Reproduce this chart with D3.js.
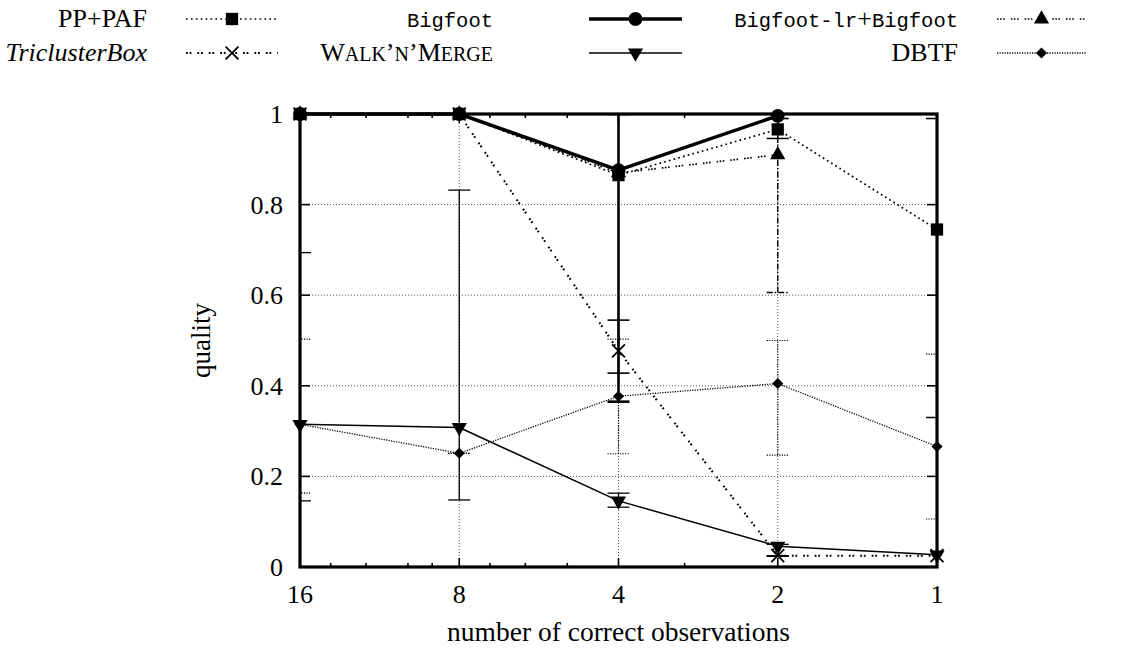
<!DOCTYPE html>
<html><head><meta charset="utf-8">
<script src="https://cdn.jsdelivr.net/npm/d3@7"></script>
<style>html,body{margin:0;padding:0;background:#fff}</style>
</head><body>
<svg id="c" width="1142" height="650"></svg>
<script>
// ---------- data ----------
const xs = [16, 8, 4, 2, 1];
const xTickLabels = ["16", "8", "4", "2", "1"];
const xMinorTicks = [14, 12, 10, 9, 7, 6, 5, 3];
const yTicks = [0, 0.2, 0.4, 0.6, 0.8, 1];
const yTickLabels = ["0", "0.2", "0.4", "0.6", "0.8", "1"];
const xGrid = [8, 4, 2];
const yGrid = [0.2, 0.4, 0.6, 0.8];

const ppPaf   = [1, 1, 0.865, 0.966, 0.745];
const ppPafLo = [null, null, null, 0.946, 0.33];
const ppPafHi = [null, null, null, 0.99, 0.99];

const bigfoot   = [1, 1, 0.876, 0.996, null];
const bigfootLo = [null, null, 0.365, null, null];
const bigfootHi = [null, null, 1.0, null, null];

const bflr   = [1, 1, 0.87, 0.91, null];
const bflrLo = [null, null, null, 0.606, null];
const bflrHi = [null, null, null, 0.99, null];

const tricluster   = [1, 1, 0.477, 0.025, 0.025];
const triclusterLo = [null, null, 0.428, 0.024, null];
const triclusterHi = [null, null, 0.545, 0.024, null];

const walkMerge   = [0.315, 0.308, 0.146, 0.046, 0.027];
const walkMergeLo = [0.146, 0.148, 0.132, 0.024, null];
const walkMergeHi = [0.694, 0.832, 0.163, 0.05, null];

const dbtf   = [0.315, 0.251, 0.377, 0.405, 0.266];
const dbtfLo = [0.163, 0.251, 0.25, 0.247, 0.106];
const dbtfHi = [0.503, 0.251, 0.503, 0.5, 0.47];

const seriesNames = ["PP+PAF", "Bigfoot", "Bigfoot-lr+Bigfoot", "TriclusterBox", "Walk'n'Merge", "DBTF"];
const xLabel = "number of correct observations";
const yLabel = "quality";

// ---------- setup ----------
const svg = d3.select("#c");
const L = 300, R = 937, T = 114, B = 567;
const x = d3.scaleLog().base(2).domain([16, 1]).range([L, R]);
const y = d3.scaleLinear().domain([0, 1]).range([B, T]);
const serif = "'Liberation Serif','Times New Roman',serif";
const mono = "'Liberation Mono','DejaVu Sans Mono',monospace";

const series = [
  {name: seriesNames[0], v: ppPaf, lo: ppPafLo, hi: ppPafHi, w: 1.7, dash: "1.7,3.2", ew: 1.5, edash: null, marker: "square"},
  {name: seriesNames[1], v: bigfoot, lo: bigfootLo, hi: bigfootHi, w: 3.5, dash: null, ew: 2.6, edash: null, marker: "circle"},
  {name: seriesNames[2], v: bflr, lo: bflrLo, hi: bflrHi, w: 1.7, dash: "1.6,1.5,1.6,1.5,1.6,6", ew: 1.4, edash: "6,2,1.5,2", marker: "triUp"},
  {name: seriesNames[3], v: tricluster, lo: triclusterLo, hi: triclusterHi, w: 2, dash: "1.8,1.8,1.8,6", ew: 1.6, edash: null, marker: "cross"},
  {name: seriesNames[4], v: walkMerge, lo: walkMergeLo, hi: walkMergeHi, w: 1.5, dash: null, ew: 1.3, edash: null, marker: "triDown"},
  {name: seriesNames[5], v: dbtf, lo: dbtfLo, hi: dbtfHi, w: 1.3, dash: "1.2,1.3", ew: 1.2, edash: "1.2,1.3", marker: "diamond"}
];

function drawMarker(g, type, cx, cy) {
  if (type === "square") {
    g.append("path").attr("d", d3.symbol(d3.symbolSquare, 150)()).attr("transform", `translate(${cx},${cy})`).attr("fill", "#000");
  } else if (type === "circle") {
    g.append("path").attr("d", d3.symbol(d3.symbolCircle, 150)()).attr("transform", `translate(${cx},${cy})`).attr("fill", "#000");
  } else if (type === "triUp") {
    g.append("path").attr("d", d3.symbol(d3.symbolTriangle, 100)()).attr("transform", `translate(${cx},${cy})`).attr("fill", "#000");
  } else if (type === "triDown") {
    g.append("path").attr("d", d3.symbol(d3.symbolTriangle, 100)()).attr("transform", `translate(${cx},${cy}) rotate(180)`).attr("fill", "#000");
  } else if (type === "diamond") {
    g.append("path").attr("d", d3.symbol(d3.symbolSquare, 62)()).attr("transform", `translate(${cx},${cy}) rotate(45)`).attr("fill", "#000");
  } else if (type === "cross") {
    g.append("path").attr("d", d3.symbol(d3.symbolX, 110)()).attr("transform", `translate(${cx},${cy})`)
      .attr("fill", "none").attr("stroke", "#000").attr("stroke-width", 1.8);
  }
}

// clip
svg.append("defs").append("clipPath").attr("id", "plotclip")
  .append("rect").attr("x", L).attr("y", T).attr("width", R - L).attr("height", B - T);

// grid
const grid = svg.append("g").attr("stroke", "#555").attr("stroke-width", 1).attr("stroke-dasharray", "1,2");
yGrid.forEach(v => grid.append("line").attr("x1", L).attr("x2", R).attr("y1", y(v)).attr("y2", y(v)));
xGrid.forEach(v => grid.append("line").attr("x1", x(v)).attr("x2", x(v)).attr("y1", T).attr("y2", B));

// ticks
const tk = svg.append("g").attr("stroke", "#000").attr("stroke-width", 1.6);
yTicks.forEach(v => {
  tk.append("line").attr("x1", L).attr("x2", L + 10).attr("y1", y(v)).attr("y2", y(v));
  tk.append("line").attr("x1", R - 10).attr("x2", R).attr("y1", y(v)).attr("y2", y(v));
});
xs.forEach(v => {
  tk.append("line").attr("x1", x(v)).attr("x2", x(v)).attr("y1", B).attr("y2", B - 9);
  tk.append("line").attr("x1", x(v)).attr("x2", x(v)).attr("y1", T).attr("y2", T + 9);
});
xMinorTicks.forEach(v => {
  tk.append("line").attr("x1", x(v)).attr("x2", x(v)).attr("y1", B).attr("y2", B - 4);
  tk.append("line").attr("x1", x(v)).attr("x2", x(v)).attr("y1", T).attr("y2", T + 4);
});

// error bars
const eb = svg.append("g").attr("clip-path", "url(#plotclip)");
series.forEach(s => {
  xs.forEach((xv, i) => {
    if (s.lo[i] == null || s.hi[i] == null) return;
    const g = eb.append("g").attr("stroke", "#000").attr("stroke-width", s.ew)
      .attr("stroke-dasharray", s.edash);
    const cx = x(xv);
    g.append("line").attr("x1", cx).attr("x2", cx).attr("y1", y(s.lo[i])).attr("y2", y(s.hi[i]));
    [s.lo[i], s.hi[i]].forEach(v => g.append("line").attr("x1", cx - 11).attr("x2", cx + 11).attr("y1", y(v)).attr("y2", y(v)));
  });
});

// lines
const line = d3.line().defined(d => d[1] != null).x(d => x(d[0])).y(d => y(d[1]));
const lines = svg.append("g");
series.slice().reverse().forEach(s => {
  lines.append("path").attr("d", line(xs.map((xv, i) => [xv, s.v[i]])))
    .attr("fill", "none").attr("stroke", "#000").attr("stroke-width", s.w)
    .attr("stroke-dasharray", s.dash).attr("stroke-linejoin", "round");
});

// frame
svg.append("rect").attr("x", L).attr("y", T).attr("width", R - L).attr("height", B - T)
  .attr("fill", "none").attr("stroke", "#000").attr("stroke-width", 3.2);

// markers
const mk = svg.append("g");
series.slice().reverse().forEach(s => {
  xs.forEach((xv, i) => { if (s.v[i] != null) drawMarker(mk, s.marker, x(xv), y(s.v[i])); });
});

// tick labels
const tl = svg.append("g").attr("font-family", serif).attr("font-size", 26).attr("fill", "#000");
yTicks.forEach((v, i) => tl.append("text").attr("x", L - 17).attr("y", y(v) + 9).attr("text-anchor", "end").text(yTickLabels[i]));
xs.forEach((v, i) => tl.append("text").attr("x", x(v)).attr("y", B + 36).attr("text-anchor", "middle").text(xTickLabels[i]));

// axis labels
svg.append("text").attr("x", (L + R) / 2).attr("y", 641).attr("text-anchor", "middle")
  .attr("font-family", serif).attr("font-size", 27.5).text(xLabel);
svg.append("text").attr("transform", `translate(210,${(T + B) / 2}) rotate(-90)`).attr("text-anchor", "middle")
  .attr("font-family", serif).attr("font-size", 27).text(yLabel);

// legend
const lg = svg.append("g");
const cols = [{tx: 147, s1: 186, s2: 278}, {tx: 493, s1: 589, s2: 682}, {tx: 958, s1: 997, s2: 1086}];
const rows = [27, 61];
series.forEach((s, k) => {
  const c = cols[k % 3], ry = rows[Math.floor(k / 3)];
  const t = lg.append("text").attr("x", c.tx).attr("y", ry).attr("text-anchor", "end").attr("fill", "#000");
  if (k === 0 || k === 5) {
    t.attr("font-family", serif).attr("font-size", 26).text(s.name);
  } else if (k === 1) {
    t.attr("font-family", mono).attr("font-size", 20.5).text(s.name);
  } else if (k === 2) {
    const parts = s.name.split("+");
    t.attr("font-family", mono).attr("font-size", 20.5);
    t.append("tspan").text(parts[0]);
    t.append("tspan").attr("font-family", serif).attr("font-size", 26).text("+");
    t.append("tspan").text(parts[1]);
  } else if (k === 3) {
    t.attr("font-family", serif).attr("font-size", 26).attr("font-style", "italic").text(s.name);
  } else if (k === 4) {
    t.attr("font-family", serif).attr("font-size", 26);
    const sc = [["W", 26], ["ALK", 20], ["\u2019", 26], ["N", 20], ["\u2019", 26], ["M", 26], ["ERGE", 20]];
    sc.forEach(p => t.append("tspan").attr("font-size", p[1]).text(p[0]));
  }
  const cy = ry - 8;
  lg.append("line").attr("x1", c.s1).attr("x2", c.s2).attr("y1", cy).attr("y2", cy)
    .attr("stroke", "#000").attr("stroke-width", s.w).attr("stroke-dasharray", s.dash);
  drawMarker(lg, s.marker, (c.s1 + c.s2) / 2, cy);
});
</script>
</body></html>
